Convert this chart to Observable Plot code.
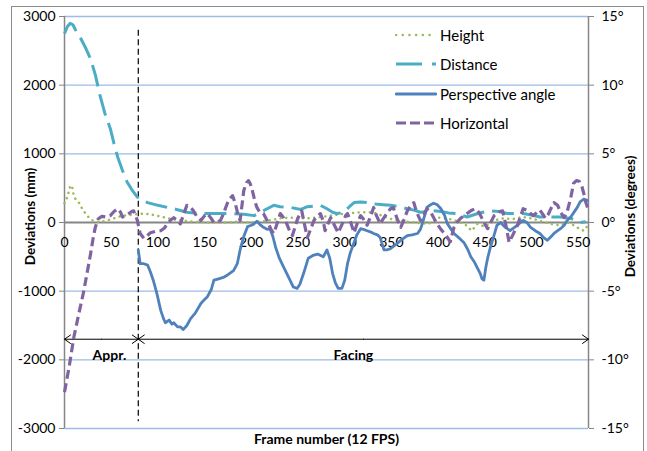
<!DOCTYPE html>
<html>
<head>
<meta charset="utf-8">
<script src="https://cdn.jsdelivr.net/npm/d3@7"></script>
<script src="https://cdn.jsdelivr.net/npm/@observablehq/plot@0.6"></script>
<style>
  html, body { margin: 0; padding: 0; background: #fff; }
  #wrap { position: relative; width: 647px; height: 451px; overflow: hidden; font-family: Lato, "Open Sans", sans-serif; }
  #border { position: absolute; left: 11px; top: 6px; width: 633px; height: 470px; border: 1px solid #8c8c8c; box-sizing: border-box; pointer-events: none; }
  #legend { position: absolute; left: 395px; top: 20px; font-size: 15px; color: #000; }
  #legend .row { display: flex; align-items: center; height: 29.5px; }
  #legend svg { width: 42px; height: 10px; margin-right: 3px; }
</style>
</head>
<body>
<div id="wrap">
  <div id="chart"></div>
  <div id="border"></div>
  <div id="legend"></div>
</div>
<script>
// ---- data ----
const xDomain = [0, 561];
const xTicks = [0, 50, 100, 150, 200, 250, 300, 350, 400, 450, 500, 550];
const yTicks = [-3000, -2000, -1000, 0, 1000, 2000, 3000];   // mm
const mmPerDegree = 200;                                     // 15° <-> 3000 mm
const boundaryFrame = 79;
const phases = [
  { label: "Appr.", start: 0, end: 79 },
  { label: "Facing", start: 79, end: 561 }
];
const phaseArrowY = -1700;

// Height (mm)
const heightFrames = [0,2,4,6,8,10,12,15,19,24,30,36,42,48,55,62,70,78,86,95,105,115,125,140,155,170,185,200,215,230,245,260,275,290,300,310,320,330,340,350,360,375,390,400,410,420,430,436,442,450,460,470,480,490,500,510,520,530,540,550,556,561];
const heightValues = [280,330,420,520,540,380,340,300,200,100,30,10,20,40,70,100,110,120,130,110,80,50,30,10,0,0,10,0,20,60,70,60,80,110,130,140,150,150,100,50,20,0,-20,70,60,20,-40,-120,-20,-60,30,60,50,80,60,20,-20,-40,0,-80,-120,-30];

// Distance (mm)
const distanceFrames = [0,3,6,9,12,17,22,28,33,38,43,49,53,57,62,67,72,78,84,89,100,110,120,131,142,153,165,181,192,203,210,217,224,231,242,253,260,267,274,281,287,292,299,305,310,317,324,333,341,349,358,367,374,381,388,395,403,411,420,431,440,448,456,465,474,483,491,500,509,520,531,542,552,558];
const distanceValues = [2750,2850,2900,2880,2800,2690,2560,2380,2150,1850,1600,1370,1150,950,760,590,480,370,320,290,250,220,190,150,135,130,130,130,120,100,150,200,250,230,220,190,230,240,250,200,150,130,150,230,290,300,290,270,260,250,230,200,180,150,160,170,160,140,130,80,120,150,170,160,130,130,130,110,80,80,80,60,0,10];

// Perspective angle (degrees)
const perspectiveFrames = [79,81,85,89,92,95,99,103,106,108,112,115,117,121,124,127,131,135,140,146,150,153,157,160,165,170,175,181,185,188,192,196,200,203,206,210,213,217,220,223,226,230,235,240,245,249,252,256,261,266,271,277,281,284,287,290,293,297,300,303,306,310,313,317,320,324,328,331,335,338,342,345,349,355,360,364,367,372,378,381,383,386,388,392,395,399,403,407,410,414,417,422,428,432,435,439,442,445,447,449,451,453,456,460,463,467,471,477,481,485,488,491,495,499,504,509,513,517,520,524,528,531,535,538,542,545,549,552,556,560];
const perspectiveValues = [-2.0,-3.0,-3.0,-3.1,-3.6,-4.2,-5.2,-6.4,-7.0,-7.3,-7.1,-7.4,-7.3,-7.6,-7.6,-7.8,-7.5,-7.0,-6.6,-5.9,-5.6,-5.4,-4.9,-4.2,-4.1,-4.0,-3.8,-3.5,-3.0,-2.0,-1.0,-0.3,-0.2,-0.1,0.1,-0.2,-0.35,-0.5,-0.45,-1.0,-1.8,-2.6,-3.3,-4.0,-4.7,-4.8,-4.5,-3.7,-2.6,-2.4,-2.3,-2.5,-2.0,-2.6,-3.7,-4.4,-4.8,-4.8,-4.2,-3.0,-2.2,-1.45,-0.9,-0.45,-0.5,-0.6,-0.7,-0.8,-0.9,-1.1,-2.0,-2.0,-1.9,-1.6,-1.3,-1.1,-0.95,-0.9,-0.8,-0.5,-0.1,0.6,1.1,1.3,1.4,1.3,1.0,0.5,-0.1,-0.5,-0.8,-1.1,-1.5,-2.0,-2.5,-2.9,-3.3,-3.7,-4.1,-4.2,-3.3,-2.6,-1.8,-0.9,-0.2,0.0,-0.3,-0.6,-0.4,-0.2,0.0,0.15,0.0,-0.35,-0.6,-0.8,-1.1,-1.3,-1.1,-0.8,-0.6,-0.45,-0.2,0.15,0.4,0.7,1.1,1.5,1.7,1.6];

// Horizontal (mm)
const horizontalFrames = [0,5,10,15,20,24,28,31,33,36,40,44,49,53,57,60,62,66,69,72,74,76,78,81,85,88,92,97,103,107,110,114,117,120,124,127,131,135,138,142,146,150,153,157,160,164,167,170,174,177,180,183,186,188,190,192,195,197,199,201,204,206,209,213,218,221,224,227,231,234,238,241,244,247,249,252,254,257,260,264,267,271,274,277,279,282,285,289,293,296,299,301,303,306,310,313,317,320,324,328,331,334,338,341,345,349,352,356,360,364,367,371,374,377,381,385,388,392,396,399,403,408,413,417,420,424,428,431,436,440,444,447,450,453,457,460,463,466,469,472,476,480,485,488,491,495,499,502,506,509,512,515,518,520,524,528,531,535,538,542,545,548,551,554,556,558,560];
const horizontalValues = [-2470,-2100,-1670,-1350,-1040,-750,-450,-200,-70,50,90,80,100,160,200,150,80,100,130,160,170,100,30,-160,-230,-200,-150,-130,-120,-80,-20,40,70,40,-20,100,250,220,170,80,30,100,130,60,0,10,30,120,270,350,390,270,100,30,250,470,580,610,560,470,300,220,150,130,0,-100,-160,-40,130,80,-20,-120,-190,-60,30,130,170,-30,-220,-80,30,100,130,20,-120,-20,70,-40,-150,-60,30,100,130,20,-150,-30,100,50,-40,100,220,100,-20,50,130,200,220,60,-70,60,170,250,290,150,30,120,200,150,50,-20,-100,-180,-280,-70,0,60,100,130,180,200,140,60,-20,-90,20,100,130,160,170,0,-290,-180,-40,80,200,180,130,100,150,180,120,60,120,180,290,250,150,70,150,360,570,610,600,520,420,300,220];

// ---- series definitions ----
const zip = (fs, vs) => fs.map((f, i) => ({ frame: f, value: vs[i] }));
const series = [
  { name: "Height", data: zip(heightFrames, heightValues), color: "#9bbb59", width: 2.5, dash: "0.1,5.5", cap: "round", scale: 1 },
  { name: "Distance", data: zip(distanceFrames, distanceValues), color: "#4bacc6", width: 3, dash: "22,8", cap: "butt", scale: 1 },
  { name: "Perspective angle", data: zip(perspectiveFrames, perspectiveValues), color: "#4f81bd", width: 2.8, dash: null, cap: "round", scale: mmPerDegree },
  { name: "Horizontal", data: zip(horizontalFrames, horizontalValues), color: "#8064a2", width: 3.2, dash: "9,4.5", cap: "butt", scale: 1 }
];

const arrows = phases.flatMap(p => {
  const mid = (p.start + p.end) / 2;
  return [{ from: mid, to: p.start }, { from: mid, to: p.end }];
});

const gridBlue = "#9dbbe6";
const axisGray = "#868686";
const labelShift = { "Appr.": 8, "Facing": -10 };

const chart = Plot.plot({
  width: 647,
  height: 451,
  marginLeft: 64,
  marginRight: 59,
  marginTop: 16,
  marginBottom: 23,
  style: { fontFamily: "Lato, 'Open Sans', sans-serif", fontSize: "14px", color: "#000", background: "transparent" },
  x: { domain: xDomain, axis: null },
  y: { domain: [yTicks[0], yTicks[yTicks.length - 1]], axis: null },
  marks: [
    Plot.ruleY(yTicks.filter(d => d !== 0), { stroke: gridBlue, strokeWidth: 1.3 }),
    Plot.ruleX(xDomain, { stroke: axisGray, strokeWidth: 1.5 }),
    Plot.ruleY([0], { stroke: axisGray, strokeWidth: 2 }),
    Plot.axisY({ anchor: "left", ticks: yTicks, tickSize: 5, tickPadding: 4, stroke: axisGray, tickFormat: d => String(d), label: null, fontSize: 14 }),
    Plot.axisY({ anchor: "right", ticks: yTicks, tickSize: 5, tickPadding: 8, stroke: axisGray, tickFormat: d => `${d / mmPerDegree}°`, label: null, fontSize: 14 }),
    Plot.text(xTicks, { x: d => d, y: 0, dy: 20, text: d => String(d), fontSize: 14, fill: "#000" }),
    Plot.ruleX([boundaryFrame], { y1: 2800, y2: -2900, stroke: "#000", strokeWidth: 1.2, strokeDasharray: "6,3.5" }),
    Plot.arrow(arrows, { x1: "from", x2: "to", y1: phaseArrowY, y2: phaseArrowY, stroke: "#000", strokeWidth: 1, headLength: 11, headAngle: 70 }),
    ...phases.map(p => Plot.text([p], { x: d => (d.start + d.end) / 2, y: phaseArrowY, text: "label", dy: 16, dx: labelShift[p.label], fontWeight: "bold", fontSize: 14 })),
    ...series.map(s => Plot.line(s.data, {
      x: "frame",
      y: d => d.value * s.scale,
      stroke: s.color,
      strokeWidth: s.width,
      strokeDasharray: s.dash,
      strokeLinecap: s.cap,
      strokeLinejoin: "round"
    })),
    Plot.text(["Deviations (mm)"], { frameAnchor: "left", textAnchor: "middle", rotate: -90, dx: -34, dy: -6, fontWeight: "bold", fontSize: 13.5 }),
    Plot.text(["Deviations (degrees)"], { frameAnchor: "right", textAnchor: "middle", rotate: -90, dx: 42, dy: -6, fontWeight: "bold", fontSize: 13.5 }),
    Plot.text(["Frame number (12 FPS)"], { frameAnchor: "bottom", textAnchor: "middle", dy: 15, fontWeight: "bold", fontSize: 14 })
  ]
});
document.getElementById("chart").appendChild(chart);

// Legend overlay (inside plot, top right)
const legend = document.getElementById("legend");
const legendDash = { "Height": "0.1,6.6", "Distance": "26,10,4,10", "Perspective angle": null, "Horizontal": "10,4" };
for (const s of series) {
  const row = document.createElement("div");
  row.className = "row";
  const dash = legendDash[s.name];
  row.innerHTML = `<svg viewBox="0 0 42 10"><line x1="1" y1="5" x2="41" y2="5" stroke="${s.color}" stroke-width="${s.width}" ${dash ? `stroke-dasharray="${dash}"` : ""} stroke-linecap="${s.cap}"/></svg><span>${s.name}</span>`;
  legend.appendChild(row);
}
</script>
</body>
</html>
